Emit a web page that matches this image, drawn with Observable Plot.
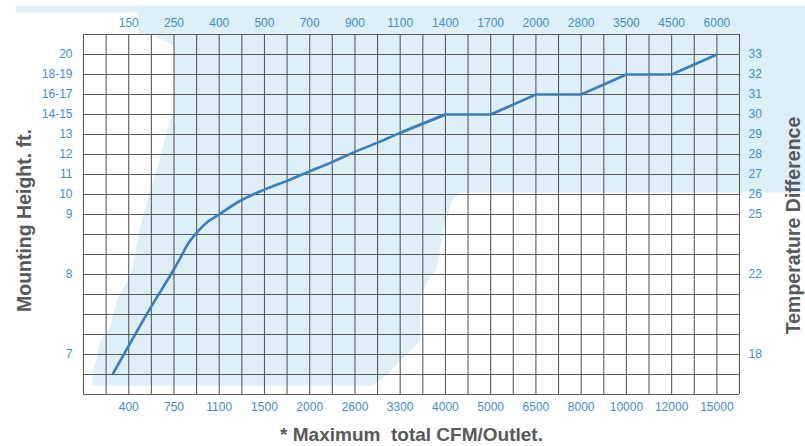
<!DOCTYPE html>
<html>
<head>
<meta charset="utf-8">
<script src="https://cdn.jsdelivr.net/npm/d3@7"></script>
<script src="https://cdn.jsdelivr.net/npm/@observablehq/plot@0.6"></script>
<style>
  body { margin: 0; background: #ffffff; }
  #chart svg { display: block; }
</style>
</head>
<body>
<div id="chart"></div>
<script>
// Grid: 29 columns x 18 rows; labels sit on even columns and selected rows
const topLabels = ["150","250","400","500","700","900","1100","1400","1700","2000","2800","3500","4500","6000"];
const bottomLabels = ["400","750","1100","1500","2000","2600","3300","4000","5000","6500","8000","10000","12000","15000"];
const labelCols = [2,4,6,8,10,12,14,16,18,20,22,24,26,28];
const leftLabels = ["20","18-19","16-17","14-15","13","12","11","10","9","8","7"];
const rightLabels = ["33","32","31","30","29","28","27","26","25","22","18"];
const labelRows = [17,16,15,14,13,12,11,10,9,6,2];

// Curve, in grid units (column, row from bottom)
const curveCol = [1.3, 2.84, 3.94, 4.38, 4.6, 4.96, 5.48, 5.99, 6.95, 7.97, 8.97, 9.99, 10.99, 11.97, 12.97, 13.97, 16, 18, 20, 22, 24, 26, 28];
const curveRow = [1.03, 4.1, 6.15, 7.03, 7.5, 8.03, 8.62, 9.0, 9.7, 10.23, 10.67, 11.15, 11.62, 12.12, 12.58, 13.07, 14, 14, 15, 15, 16, 16, 17];

// Light blue shaded zone outline, in grid units
const shadeCol = [-3.0, 31.9, 31.9, 16.6, 16.3, 15.9, 15.6, 15.2, 14.9, 14.9, 14.0, 13.4, 12.8, 0.4, 0.4, 0.75, 1.15, 1.5, 2.1, 2.5, 2.9, 3.3, 3.7, 4.0, 4.0, 3.0, 2.4, 2.4, -3.0];
const shadeRow = [19.45, 19.45, 10.1, 10.1, 9.7, 8.2, 6.2, 5.7, 4.8, 2.7, 1.7, 0.95, 0.45, 0.45, 0.95, 2.7, 3.3, 4.8, 6.0, 8.4, 10.0, 11.5, 13.2, 14.2, 17.45, 18.0, 18.0, 19.1, 19.1];

const curve = curveCol.map((c, i) => ({c, r: curveRow[i]}));
const shade = shadeCol.map((c, i) => ({c, r: shadeRow[i]}));
const lowerPart = curve.filter(d => d.c <= 4.38);
const smoothPart = curve.filter(d => d.c >= 4.38 && d.c <= 16);
const straightPart = curve.filter(d => d.c >= 13.97);

const labelBlue = "#3d8ccf";
const gridGray = "#5b5b5b";
const titleGray = "#58595b";
const lineBlue = "#3b7dbf";

const chart = Plot.plot({
  width: 805,
  height: 446,
  marginLeft: 83,
  marginRight: 66,
  marginTop: 34,
  marginBottom: 52,
  style: { fontFamily: "'Liberation Sans', Arial, sans-serif", background: "#ffffff" },
  x: { type: "linear", domain: [0, 29], axis: null },
  y: { type: "linear", domain: [0, 18], axis: null },
  marks: [
    Plot.line(shade, { x: "c", y: "r", fill: "#dfeff8", stroke: "none", curve: "linear-closed" }),
    Plot.ruleX(d3.range(0, 30), { stroke: gridGray, strokeWidth: 1.1 }),
    Plot.ruleY(d3.range(0, 19), { stroke: gridGray, strokeWidth: 1.1 }),
    Plot.line(lowerPart, { x: "c", y: "r", stroke: lineBlue, strokeWidth: 2.6, curve: "catmull-rom", strokeLinejoin: "round", strokeLinecap: "round" }),
    Plot.line(smoothPart, { x: "c", y: "r", stroke: lineBlue, strokeWidth: 2.6, curve: "catmull-rom", strokeLinejoin: "round", strokeLinecap: "round" }),
    Plot.line(straightPart, { x: "c", y: "r", stroke: lineBlue, strokeWidth: 2.6, strokeLinejoin: "round", strokeLinecap: "round" }),
    Plot.axisX({ anchor: "top", ticks: labelCols, tickFormat: d => topLabels[labelCols.indexOf(d)], tickSize: 0, tickPadding: 8, color: labelBlue, fontSize: 12, label: null }),
    Plot.axisX({ anchor: "bottom", ticks: labelCols, tickFormat: d => bottomLabels[labelCols.indexOf(d)], tickSize: 0, tickPadding: 8, color: labelBlue, fontSize: 12, label: null }),
    Plot.axisY({ anchor: "left", ticks: labelRows, tickFormat: d => leftLabels[labelRows.indexOf(d)], tickSize: 0, tickPadding: 11, color: labelBlue, fontSize: 12, label: null }),
    Plot.axisY({ anchor: "right", ticks: labelRows, tickFormat: d => rightLabels[labelRows.indexOf(d)], tickSize: 0, tickPadding: 9, color: labelBlue, fontSize: 12, label: null }),
    Plot.text(["Mounting Height. ft."], { frameAnchor: "left", dx: -59, dy: 6, rotate: -90, textAnchor: "middle", lineAnchor: "middle", fontSize: 19.5, fontWeight: "bold", fill: titleGray }),
    Plot.text(["Temperature Difference"], { frameAnchor: "right", dx: 54, dy: 11, rotate: -90, textAnchor: "middle", lineAnchor: "middle", fontSize: 19.5, fontWeight: "bold", fill: titleGray }),
    Plot.text(["* Maximum\u00a0 total CFM/Outlet."], { frameAnchor: "bottom", dy: 40, textAnchor: "middle", lineAnchor: "middle", fontSize: 19, fontWeight: "bold", fill: titleGray })
  ]
});
document.getElementById("chart").appendChild(chart);
</script>
</body>
</html>
